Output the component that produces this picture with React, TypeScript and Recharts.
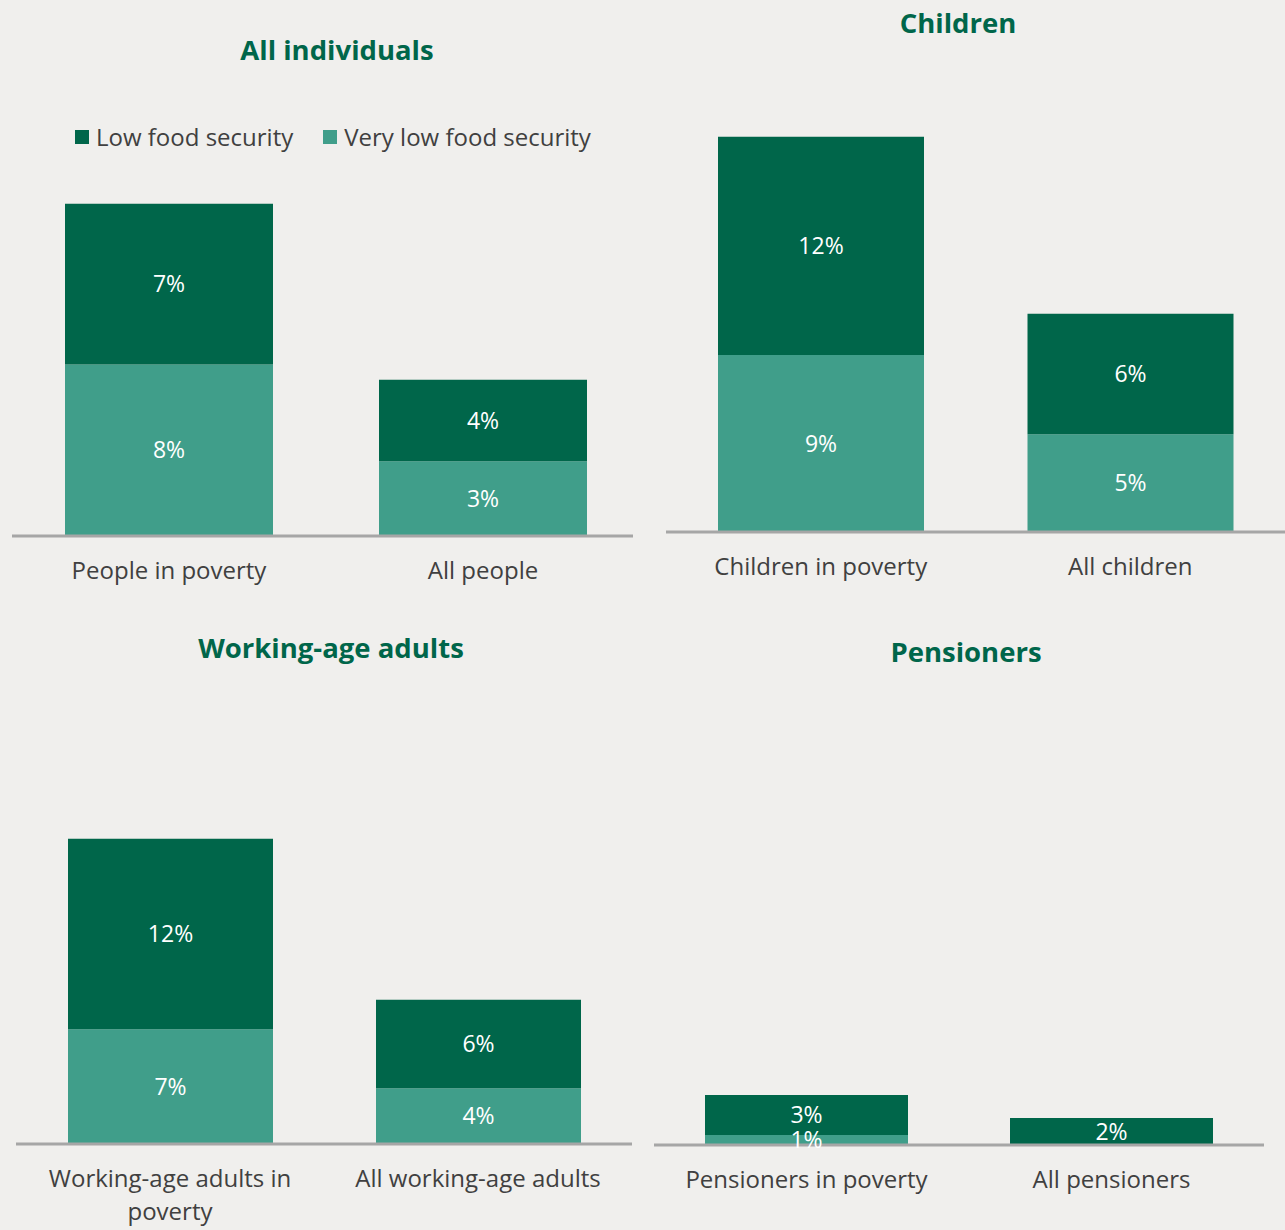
import { BarChart, Bar, XAxis, YAxis, LabelList } from "recharts";

const seriesNames = ["Low food security", "Very low food security"];

const allCategories = ["People in poverty", "All people"];
const allVeryLow = [7.8, 3.4];
const allLow = [7.3, 3.7];

const childCategories = ["Children in poverty", "All children"];
const childVeryLow = [9.4, 5.2];
const childLow = [11.6, 6.4];

const workingCategories = ["Working-age adults in poverty", "All working-age adults"];
const workingVeryLow = [7.4, 3.6];
const workingLow = [12.3, 5.7];

const pensionerCategories = ["Pensioners in poverty", "All pensioners"];
const pensionerVeryLow = [0.75, 0];
const pensionerLow = [2.95, 2.0];

const DARK = "#00664a";
const LIGHT = "#409e8a";
const BG = "#f0efed";
const TEXT = "#404040";
const FONT = "'Open Sans', sans-serif";

const toRows = (cats: string[], veryLow: number[], low: number[]) =>
  cats.map((name, i) => ({ name, veryLow: veryLow[i], low: low[i] }));

const panels = [
  {
    title: "All individuals",
    titleX: 337,
    titleY: 50,
    data: toRows(allCategories, allVeryLow, allLow),
    left: 0,
    top: 0,
    width: 645,
    margin: { top: 184, right: 12, bottom: 9, left: 12 },
    padding: { left: 0, right: -7 },
    max: 16,
    barSize: 208,
    axisHeight: 70,
  },
  {
    title: "Children",
    titleX: 958,
    titleY: 23,
    data: toRows(childCategories, childVeryLow, childLow),
    left: 645,
    top: 0,
    width: 640,
    margin: { top: 118, right: 0, bottom: 13, left: 21 },
    padding: { left: 0, right: 0 },
    max: 22,
    barSize: 206,
    axisHeight: 70,
  },
  {
    title: "Working-age adults",
    titleX: 331,
    titleY: 648,
    data: toRows(workingCategories, workingVeryLow, workingLow),
    left: 0,
    top: 615,
    width: 645,
    margin: { top: 219, right: 13, bottom: 6, left: 16 },
    padding: { left: 0, right: 0 },
    max: 20,
    barSize: 205,
    axisHeight: 80,
  },
  {
    title: "Pensioners",
    titleX: 966,
    titleY: 652,
    data: toRows(pensionerCategories, pensionerVeryLow, pensionerLow),
    left: 640,
    top: 615,
    width: 645,
    margin: { top: 206, right: 21, bottom: 15, left: 14 },
    padding: { left: 0, right: 0 },
    max: 24,
    barSize: 203,
    axisHeight: 70,
  },
];

// simple greedy wrap on character count, like the Excel labels
const wrap = (label: string, maxChars = 22) => {
  const lines: string[] = [];
  let cur = "";
  label.split(" ").forEach((w) => {
    const next = cur ? `${cur} ${w}` : w;
    if (next.length > maxChars && cur) {
      lines.push(cur);
      cur = w;
    } else {
      cur = next;
    }
  });
  if (cur) lines.push(cur);
  return lines;
};

const CategoryTick = (props: any) => {
  const lines = wrap(String(props.payload.value));
  return (
    <text
      x={props.x}
      y={props.y}
      textAnchor="middle"
      fill={TEXT}
      fontSize={24}
      fontFamily={FONT}
    >
      {lines.map((line, i) => (
        <tspan key={i} x={props.x} dy={i === 0 ? "0.71em" : 33}>
          {line}
        </tspan>
      ))}
    </text>
  );
};

const pct = (v: any) => (Number(v) >= 0.5 ? `${Math.round(Number(v))}%` : "");

export default function App() {
  return (
    <div
      style={{
        position: "absolute",
        left: 0,
        top: 0,
        width: 1285,
        height: 1230,
        background: BG,
        overflow: "hidden",
        fontFamily: FONT,
      }}
    >
      {panels.map((p) => (
        <div key={p.title}>
          <div
            style={{
              position: "absolute",
              left: p.titleX,
              top: p.titleY,
              transform: "translate(-50%, -50%)",
              whiteSpace: "nowrap",
              fontSize: 27.5,
              fontWeight: 700,
              lineHeight: 1,
              color: DARK,
            }}
          >
            {p.title}
          </div>
          <div style={{ position: "absolute", left: p.left, top: p.top }}>
            <BarChart
              width={p.width}
              height={615}
              data={p.data}
              margin={p.margin}
            >
              <XAxis
                dataKey="name"
                axisLine={{ stroke: "#a6a6a6", strokeWidth: 3 }}
                tickLine={false}
                tickSize={0}
                tickMargin={26}
                height={p.axisHeight}
                padding={p.padding}
                interval={0}
                tick={<CategoryTick />}
              />
              <YAxis hide domain={[0, p.max]} />
              <Bar
                dataKey="veryLow"
                stackId="a"
                fill={LIGHT}
                barSize={p.barSize}
                isAnimationActive={false}
              >
                <LabelList
                  dataKey="veryLow"
                  position="center"
                  formatter={pct}
                  fill="#ffffff"
                  fontSize={23}
                  fontFamily={FONT}
                />
              </Bar>
              <Bar
                dataKey="low"
                stackId="a"
                fill={DARK}
                barSize={p.barSize}
                isAnimationActive={false}
              >
                <LabelList
                  dataKey="low"
                  position="center"
                  formatter={pct}
                  fill="#ffffff"
                  fontSize={23}
                  fontFamily={FONT}
                />
              </Bar>
            </BarChart>
          </div>
        </div>
      ))}
      <div
        style={{
          position: "absolute",
          left: 75,
          top: 137,
          transform: "translateY(-50%)",
          display: "flex",
          alignItems: "center",
          fontSize: 24,
          color: TEXT,
          whiteSpace: "nowrap",
          lineHeight: 1,
        }}
      >
        {seriesNames.map((name, i) => (
          <div
            key={name}
            style={{ display: "flex", alignItems: "center", marginRight: i === 0 ? 30 : 0 }}
          >
            <span
              style={{
                display: "inline-block",
                width: 14,
                height: 14,
                background: i === 0 ? DARK : LIGHT,
                marginRight: 7,
              }}
            />
            <span>{name}</span>
          </div>
        ))}
      </div>
    </div>
  );
}
